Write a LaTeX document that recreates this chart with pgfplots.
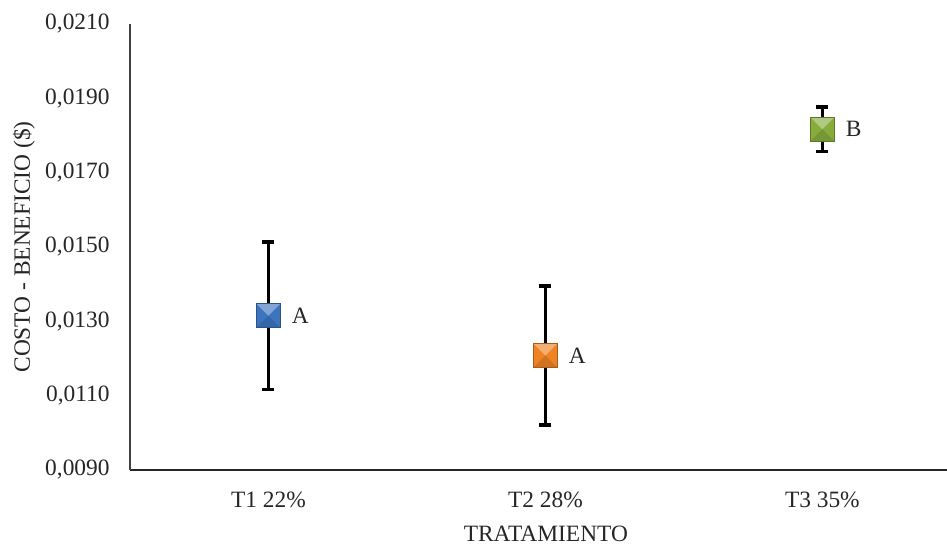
\documentclass[border=0pt]{standalone}
\usepackage{pgfplots}
\pgfplotsset{compat=1.18}
\usepackage{fontspec}
\setmainfont{Liberation Serif}
\definecolor{cA}{HTML}{3D74BE}
\definecolor{cB}{HTML}{EE8224}
\definecolor{cC}{HTML}{86AC3C}
\definecolor{txt}{HTML}{262626}
\newcommand\bevelmark[2]{%
  \pgfdeclareplotmark{#1}{%
    \pgfpathrectangle{\pgfpoint{-\pgfplotmarksize}{-\pgfplotmarksize}}{\pgfpoint{2\pgfplotmarksize}{2\pgfplotmarksize}}%
    \pgfsetfillcolor{#2}\pgfusepath{fill}%
    \pgfpathmoveto{\pgfpoint{-\pgfplotmarksize}{\pgfplotmarksize}}%
    \pgfpathlineto{\pgfpoint{\pgfplotmarksize}{\pgfplotmarksize}}%
    \pgfpathlineto{\pgfpoint{0pt}{0pt}}%
    \pgfpathclose
    \pgfsetfillcolor{#2!65!white}\pgfusepath{fill}%
    \pgfpathmoveto{\pgfpoint{-\pgfplotmarksize}{-\pgfplotmarksize}}%
    \pgfpathlineto{\pgfpoint{\pgfplotmarksize}{-\pgfplotmarksize}}%
    \pgfpathlineto{\pgfpoint{0pt}{0pt}}%
    \pgfpathclose
    \pgfsetfillcolor{#2!88!black}\pgfusepath{fill}%
    \pgfpathrectangle{\pgfpoint{-\pgfplotmarksize}{-\pgfplotmarksize}}{\pgfpoint{2\pgfplotmarksize}{2\pgfplotmarksize}}%
    \pgfsetlinewidth{0.4pt}\pgfsetstrokecolor{#2!70!black}\pgfusepath{stroke}%
  }}
\bevelmark{bevelA}{cA}
\bevelmark{bevelB}{cB}
\bevelmark{bevelC}{cC}
\begin{document}
\begin{tikzpicture}[font=\fontsize{11.7}{14}\selectfont]
\begin{axis}[
  at={(0,0)}, anchor=south west,
  scale only axis, width=408.5pt, height=223pt,
  xmin=-0.5, xmax=2.45, ymin=0.009, ymax=0.021,
  xtick={0,1,2}, xticklabels={T1 22\%, T2 28\%, T3 35\%},
  ytick={0.009,0.011,0.013,0.015,0.017,0.019,0.021},
  scaled y ticks=false,
  major tick length=0pt,
  axis x line*=bottom, axis y line*=left,
  x axis line style={line width=1.3pt, -, black!85},
  y axis line style={line width=0.6pt, -, black!75},
  tick label style={text=txt},
  yticklabel style={anchor=east, inner sep=0pt, xshift=-10pt,
    /pgf/number format/.cd, fixed, fixed zerofill, precision=4, use comma, assume math mode=true},
  xticklabel style={anchor=center, inner sep=0pt, yshift=-15pt},
  xlabel={TRATAMIENTO},
  xlabel style={at={(axis description cs:0.509,-0.1427)}, anchor=center, inner sep=0pt, text=txt},
  ylabel={COSTO - BENEFICIO (\$)},
  ylabel style={at={(axis description cs:-0.1300,0.5)}, anchor=center, inner sep=0pt, text=txt},
  clip=false,
  every node near coord/.append style={anchor=west, inner sep=0pt, xshift=11.5pt, text=txt},
  error bars/error bar style={line width=1.8pt, black},
  error bars/error mark options={rotate=90, line width=1.8pt, mark size=3pt, black},
]
\addplot[only marks, mark=bevelA, mark size=6pt,
  nodes near coords, point meta=explicit symbolic,
  error bars/.cd, y dir=both, y explicit]
  table[x=x, y=y, y error=e, meta=l] {
x y e l
0 0.01315 0.00198 A
};
\addplot[only marks, mark=bevelB, mark size=6pt,
  nodes near coords, point meta=explicit symbolic,
  error bars/.cd, y dir=both, y explicit]
  table[x=x, y=y, y error=e, meta=l] {
x y e l
1 0.01208 0.00187 A
};
\addplot[only marks, mark=bevelC, mark size=6pt,
  nodes near coords, point meta=explicit symbolic,
  error bars/.cd, y dir=both, y explicit]
  table[x=x, y=y, y error=e, meta=l] {
x y e l
2 0.01817 0.00060 B
};
\end{axis}
\pgfresetboundingbox
\path[use as bounding box] (-65pt,-37.5pt) rectangle (408.5pt,235pt);
\end{tikzpicture}
\end{document}
